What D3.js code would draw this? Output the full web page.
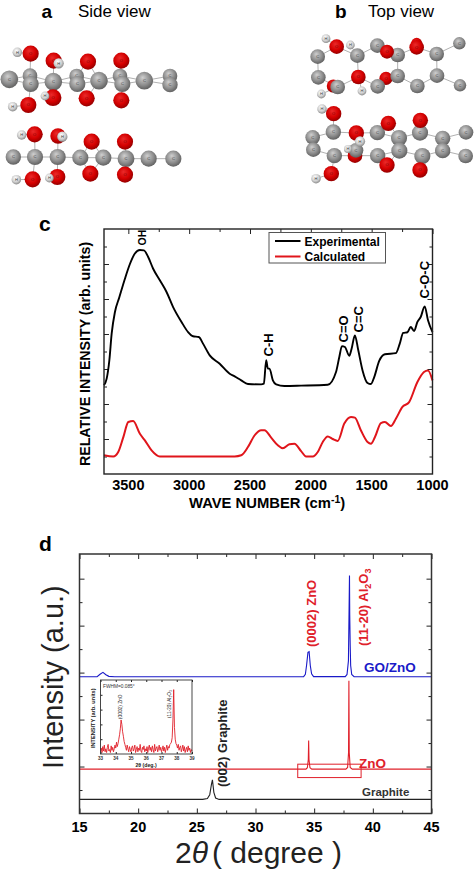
<!DOCTYPE html>
<html><head><meta charset="utf-8">
<script src="https://cdn.jsdelivr.net/npm/d3@7"></script>
<style>html,body{margin:0;padding:0;background:#fff}svg{display:block;font-family:"Liberation Sans",Arial,sans-serif}</style>
</head><body><div id="chart"></div>
<script>
// ---------- panel c ----------
const expWave=[3700,3678,3656,3637,3610,3574,3528,3487,3446,3405,3372,3337,3296,3241,3186,3132,3063,3009,2968,2921,2886,2831,2749,2667,2626,2572,2517,2408,2386,2367,2353,2340,2312,2285,2217,2080,1861,1793,1766,1744,1720,1684,1665,1638,1610,1575,1534,1506,1479,1438,1391,1301,1269,1241,1206,1179,1151,1124,1097,1064,1037,1000];
const expVal=[5.07,5.45,6.5,8.02,9.26,10.1,11.16,12.0,12.6,12.8,12.78,12.4,11.73,11.07,10.4,9.54,8.69,8.11,7.87,7.83,7.45,6.78,6.3,5.73,5.58,5.35,5.14,5.12,5.16,6.5,6.02,6.02,5.35,5.12,5.03,5.05,5.1,5.83,6.69,7.31,7.26,6.76,7.16,7.92,7.07,5.92,5.2,5.14,5.54,6.46,6.84,6.91,7.45,8.06,8.1,8.4,8.17,8.69,8.97,9.58,8.78,8.11];
const calcWave=[3700,3624,3583,3541,3500,3460,3405,3364,3309,3241,2626,2572,2517,2463,2408,2381,2326,2271,2230,2176,2135,2080,2039,1984,1943,1902,1861,1820,1779,1725,1670,1638,1589,1534,1506,1473,1424,1391,1342,1301,1247,1192,1124,1070,1037,1000];
const calcVal=[1.07,1.0,1.26,2.11,2.97,3.03,2.3,1.92,1.35,1.0,1.0,1.07,1.54,2.2,2.5,2.5,2.08,1.64,1.47,1.7,1.73,1.31,1.0,1.0,1.26,1.83,2.15,2.0,1.89,2.88,3.26,3.22,2.5,1.83,1.73,2.11,2.91,2.97,2.74,3.16,3.83,4.11,5.26,5.83,5.92,5.35];
const cTicks=[3500,3000,2500,2000,1500,1000];
const cMinor=[3250,2750,2250,1750,1250];
const cYMajor=[2,4,6,8,10,12];
const cYMinor=[1,3,5,7,9,11,13];
const cLegend=["Experimental","Calculated"];
const cPeaks=["OH","C-H","C=O","C=C","C-O-C"];
// ---------- panel d ----------
const dTicks=[15,20,25,30,35,40,45];
const dMinor=[17.5,22.5,27.5,32.5,37.5,42.5];
const dYMajor=[2,4,6,8,10];
const dYMinor=[1,3,5,7,9];
const blueX=[15,16.5,16.75,17,17.25,17.5,18,25,34.1,34.25,34.35,34.47,34.57,34.67,34.78,34.95,37.65,37.8,37.92,37.97,38.01,38.03,38.07,38.11,38.2,38.4,45];
const blueY=[5.82,5.83,5.93,6.01,5.91,5.84,5.82,5.82,5.83,5.93,6.3,6.86,6.89,6.3,5.95,5.83,5.83,5.92,6.5,8.5,10.13,8.5,7.2,6.3,5.92,5.83,5.82];
const redX=[15,34.3,34.42,34.5,34.53,34.56,34.64,34.8,37.7,37.85,37.93,37.96,37.99,38.07,38.25,45];
const redY=[1.89,1.89,1.95,2.3,3.11,2.3,1.95,1.89,1.89,1.96,2.6,5.65,2.6,1.96,1.89,1.89];
const blackX=[15,25.5,25.9,26.1,26.25,26.33,26.45,26.6,26.9,45];
const blackY=[0.6,0.6,0.64,0.8,1.25,1.43,0.9,0.66,0.6,0.6];
const zoomBox=[33.6,39,1.53,2.1];
// inset
const insetTicks=[33,34,35,36,37,38,39];
const insetX=[33,33.05,33.1,33.15,33.2,33.25,33.3,33.35,33.4,33.45,33.5,33.55,33.6,33.65,33.7,33.75,33.8,33.85,33.9,33.95,34,34.05,34.1,34.15,34.2,34.25,34.3,34.35,34.4,34.45,34.5,34.55,34.6,34.65,34.7,34.75,34.8,34.85,34.9,34.95,35,35.05,35.1,35.15,35.2,35.25,35.3,35.35,35.4,35.45,35.5,35.55,35.6,35.65,35.7,35.75,35.8,35.85,35.9,35.95,36,36.05,36.1,36.15,36.2,36.25,36.3,36.35,36.4,36.45,36.5,36.55,36.6,36.65,36.7,36.75,36.8,36.85,36.9,36.95,37,37.05,37.1,37.15,37.2,37.25,37.3,37.35,37.4,37.45,37.5,37.55,37.6,37.65,37.7,37.75,37.8,37.85,37.9,37.95,38,38.05,38.1,38.15,38.2,38.25,38.3,38.35,38.4,38.45,38.5,38.55,38.6,38.65,38.7,38.75,38.8,38.85,38.9,38.95,39];
const insetY=[.03,.08,.02,.10,.04,.12,.03,.07,.02,.09,.13,.04,.06,.02,.11,.05,.09,.03,.07,.12,.08,.16,.10,.14,.20,.26,.34,.46,.40,.30,.24,.17,.13,.09,.05,.12,.07,.03,.10,.06,.03,.09,.11,.04,.07,.12,.02,.06,.10,.03,.08,.05,.13,.04,.02,.09,.06,.11,.03,.07,.04,.10,.02,.08,.12,.05,.09,.03,.11,.06,.02,.13,.04,.08,.10,.03,.07,.12,.05,.09,.03,.06,.11,.04,.09,.02,.07,.12,.05,.10,.08,.13,.14,.16,.22,.46,.87,.36,.20,.14,.12,.08,.13,.05,.09,.11,.03,.07,.12,.04,.10,.02,.06,.09,.03,.11,.05,.08,.02,.06,.04];
// ---------- molecules (element, x, y, radius read in picture units) ----------
const mol1=[["C",28,118,24],["C",90,107,20],["C",92,132,22],["C",160,125,24],["C",230,108,20],["C",232,132,22],["C",297,122,24],["C",360,108,20],["C",367,132,22],["C",433,122,24],["C",510,108,20],["C",510,134,21],["O",92,41,22],["O",161,62,22],["O",264,65,22],["O",364,62,22],["O",85,195,22],["O",159,173,23],["O",260,175,22],["O",364,181,22],["H",52,37,13],["H",176,70,14],["H",38,200,13],["H",135,168,12]];
const bonds1=[[0,1],[0,2],[1,3],[2,3],[3,4],[3,5],[4,6],[5,6],[6,7],[6,8],[7,9],[8,9],[9,10],[9,11],[1,2],[4,5],[7,8],[10,11],[1,12],[2,16],[3,13],[3,17],[4,14],[6,14],[5,18],[6,18],[7,15],[8,19],[12,20],[16,22],[13,21],[17,23]];
const mol2=[["C",40,351,21],["C",105,351,22],["C",173,351,22],["C",241,353,22],["C",310,353,22],["C",378,356,23],["C",446,356,22],["C",520,356,22],["O",104,283,22],["O",174,288,21],["O",275,305,22],["O",375,305,22],["O",98,418,22],["O",172,411,22],["O",271,401,22],["O",375,404,22],["H",65,285,13],["H",187,290,14],["H",49,419,13],["H",148,414,12]];
const bonds2=[[0,1],[1,2],[2,3],[3,4],[4,5],[5,6],[6,7],[1,8],[2,9],[3,10],[4,10],[5,11],[1,12],[2,13],[3,14],[4,14],[5,15],[8,16],[9,17],[12,18],[13,19]];
const mol3=[["O",100,183,18],["O",258,160,18],["O",350,55,15],["C",53,95,20],["C",55,157,20],["C",113,186,20],["C",172,92,20],["C",232,62,20],["C",233,184,20],["C",293,90,20],["C",293,153,20],["C",352,183,20],["C",410,87,20],["C",411,152,20],["C",478,55,17],["C",480,181,17],["O",110,65,20],["O",261,80,19],["O",350,67,20],["O",175,156,20],["H",78,41,12],["H",151,60,12],["H",64,207,12],["H",186,198,12]];
const bonds3=[[3,4],[3,16],[4,5],[16,6],[5,19],[6,19],[6,7],[7,9],[19,8],[8,10],[9,10],[9,18],[10,11],[18,12],[11,13],[12,13],[12,14],[13,15],[16,20],[19,23],[5,22],[6,21],[17,9],[1,10]];
const mol4=[["O",165,392,20],["O",169,324,21],["C",38,337,20],["C",40,374,20],["C",100,321,21],["C",103,392,21],["C",232,323,21],["C",233,392,21],["C",297,339,22],["C",298,377,22],["C",360,323,22],["C",367,393,22],["C",428,340,21],["C",428,377,21],["C",498,322,20],["C",497,393,20],["C",168,376,20],["O",101,266,21],["O",265,295,21],["O",361,286,21],["O",94,446,21],["O",261,420,21],["O",360,435,21],["H",66,252,13],["H",180,349,14],["H",48,461,13],["H",144,372,11]];
const bonds4=[[2,3],[2,4],[3,5],[4,1],[5,0],[1,6],[0,7],[6,8],[7,9],[8,9],[8,10],[9,11],[10,12],[11,13],[12,13],[12,14],[13,15],[4,17],[5,20],[6,18],[8,18],[7,21],[9,21],[10,19],[11,22],[17,23],[20,25],[16,24],[16,26],[1,16]];

const W=475,H=870;
const svg=d3.select("#chart").append("svg").attr("width",W).attr("height",H);
const defs=svg.append("defs");
[["C",["#cfcfcf","#8e8e8e","#5a5a5a"]],["O",["#ea2a2a","#d40000","#8a0000"]],["H",["#ffffff","#cfcfcf","#808080"]]].forEach(([id,c])=>{
  const g=defs.append("radialGradient").attr("id","g"+id).attr("cx",.45).attr("cy",.42).attr("r",.62).attr("fx",.4).attr("fy",.32);
  [0,.6,1].forEach((o,i)=>g.append("stop").attr("offset",o).attr("stop-color",c[i]));
});
function text(x,y,s,o={}){
  const t=svg.append("text").attr("x",x).attr("y",y).text(s)
    .attr("font-size",o.size||12).attr("font-weight",o.weight||"normal").attr("fill",o.fill||"#000")
    .attr("text-anchor",o.anchor||"start");
  if(o.rot)t.attr("transform",`rotate(${o.rot} ${x} ${y})`);
  return t;
}
// molecules
function molecule(atoms,bonds,sx,sy){
  const g=svg.append("g");
  const r=d3.scaleLinear().domain([0,3]).range([0,1.1]);
  g.selectAll("line").data(bonds).join("line")
    .attr("x1",d=>sx(atoms[d[0]][1])).attr("y1",d=>sy(atoms[d[0]][2]))
    .attr("x2",d=>sx(atoms[d[1]][1])).attr("y2",d=>sy(atoms[d[1]][2]))
    .attr("stroke","#a8a8a8").attr("stroke-width",.9);
  const a=g.selectAll("g").data(atoms).join("g");
  a.append("circle").attr("cx",d=>sx(d[1])).attr("cy",d=>sy(d[2])).attr("r",d=>r(d[3]))
    .attr("fill",d=>`url(#g${d[0]})`);
  a.append("text").attr("x",d=>sx(d[1])).attr("y",d=>sy(d[2])+1.4).attr("text-anchor","middle")
    .attr("font-size",4).attr("fill",d=>d[0]==="O"?"#7a0000":"#3a3a3a").text(d=>d[0]);
}
const sxA=d3.scaleLinear().domain([0,555]).range([0,185]),syA=d3.scaleLinear().domain([0,450]).range([40,190]);
const sxB=d3.scaleLinear().domain([0,525]).range([300,475]),syB=d3.scaleLinear().domain([0,495]).range([25,190]);
molecule(mol1,bonds1,sxA,syA);molecule(mol2,bonds2,sxA,syA);
molecule(mol3,bonds3,sxB,syB);molecule(mol4,bonds4,sxB,syB);
text(41.5,17.5,"a",{size:19,weight:"bold"});
text(78,17,"Side view",{size:17});
text(335,17.5,"b",{size:19,weight:"bold"});
text(368,17,"Top view",{size:17});
text(39,231,"c",{size:21,weight:"bold"});
text(39,551,"d",{size:21,weight:"bold"});

function ticks(g,axis,vals,len,tf){
  const a=g.append("g").attr("transform",tf).call(axis.tickValues(vals).tickSize(len).tickFormat(""));
  a.select(".domain").remove();
  a.selectAll("line").attr("stroke","#222").attr("stroke-width",1);
}
// ---------- panel c ----------
const cx={l:104,r:432.5,t:229,b:474};
const xC=d3.scaleLinear().domain([3700,1000]).range([cx.l,cx.r]);
const yC=d3.scaleLinear().domain([0,14]).range([cx.b,cx.t]);
const gC=svg.append("g");
ticks(gC,d3.axisBottom(xC),cTicks,5,`translate(0,${cx.t})`);
ticks(gC,d3.axisBottom(xC),cMinor,3,`translate(0,${cx.t})`);
ticks(gC,d3.axisRight(yC),cYMajor,5,`translate(${cx.l},0)`);
ticks(gC,d3.axisRight(yC),cYMinor,3,`translate(${cx.l},0)`);
ticks(gC,d3.axisLeft(yC),cYMajor,5,`translate(${cx.r},0)`);
ticks(gC,d3.axisLeft(yC),cYMinor,3,`translate(${cx.r},0)`);
const lineC=d3.line().x(d=>xC(d[0])).y(d=>yC(d[1])).curve(d3.curveMonotoneX);
gC.append("path").datum(d3.zip(calcWave,calcVal)).attr("d",lineC).attr("fill","none").attr("stroke","#e0151b").attr("stroke-width",2);
gC.append("path").datum(d3.zip(expWave,expVal)).attr("d",lineC).attr("fill","none").attr("stroke","#000").attr("stroke-width",1.9);
gC.append("rect").attr("x",cx.l).attr("y",cx.t).attr("width",cx.r-cx.l).attr("height",cx.b-cx.t).attr("fill","none").attr("stroke","#222").attr("stroke-width",1.4);
cTicks.forEach(v=>text(xC(v),490,v,{size:14.5,weight:"bold",anchor:"middle"}));
const wl=text(189,508,"WAVE NUMBER (cm",{size:14.8,weight:"bold"});
wl.append("tspan").attr("dy",-5).attr("font-size",10.5).text("-1");
wl.append("tspan").attr("dy",5).text(")");
text(90,466,"RELATIVE INTENSITY (arb. units)",{size:14.2,weight:"bold",rot:-90});
// legend
gC.append("rect").attr("x",269).attr("y",232.5).attr("width",116.5).attr("height",30.5).attr("fill","#fff").attr("stroke","#555").attr("stroke-width",1);
[["#000",241],["#e0151b",256.5]].forEach(([c,y])=>gC.append("line").attr("x1",275).attr("x2",300.5).attr("y1",y).attr("y2",y).attr("stroke",c).attr("stroke-width",2));
text(304.5,245.5,cLegend[0],{size:12,weight:"bold"});
text(304.5,261,cLegend[1],{size:12,weight:"bold"});
// peak labels
const peakBase=[245.5,356.5,342.5,332.5,298.5],peakX=[146,272.5,347.5,362.5,429],peakSize=[10.5,13,13,13,13];
cPeaks.forEach((p,i)=>text(peakX[i],peakBase[i],p,{size:peakSize[i],weight:"bold",rot:-90}));

// ---------- panel d ----------
const dx={l:79.5,r:431.5,t:554,b:813.5};
const xD=d3.scaleLinear().domain([15,45]).range([dx.l,dx.r]);
const yD=d3.scaleLinear().domain([0,11.05]).range([dx.b,dx.t]);
const gD=svg.append("g");
ticks(gD,d3.axisBottom(xD),dTicks,5,`translate(0,${dx.t})`);
ticks(gD,d3.axisBottom(xD),dMinor,3,`translate(0,${dx.t})`);
ticks(gD,d3.axisTop(xD),dTicks,5,`translate(0,${dx.b})`);
ticks(gD,d3.axisTop(xD),dMinor,3,`translate(0,${dx.b})`);
ticks(gD,d3.axisRight(yD),dYMajor,5,`translate(${dx.l},0)`);
ticks(gD,d3.axisRight(yD),dYMinor,3,`translate(${dx.l},0)`);
ticks(gD,d3.axisLeft(yD),dYMajor,5,`translate(${dx.r},0)`);
ticks(gD,d3.axisLeft(yD),dYMinor,3,`translate(${dx.r},0)`);
const lineD=d3.line().x(d=>xD(d[0])).y(d=>yD(d[1]));
[[blackX,blackY,"#222"],[redX,redY,"#e0202a"],[blueX,blueY,"#1a1ac8"]].forEach(([a,b,c])=>
  gD.append("path").datum(d3.zip(a,b)).attr("d",lineD).attr("fill","none").attr("stroke",c).attr("stroke-width",1.1));
gD.append("rect").attr("x",xD(zoomBox[0])).attr("y",yD(zoomBox[3])).attr("width",xD(zoomBox[1])-xD(zoomBox[0])).attr("height",yD(zoomBox[2])-yD(zoomBox[3])).attr("fill","none").attr("stroke","#e0202a").attr("stroke-width",1);
gD.append("rect").attr("x",dx.l).attr("y",dx.t).attr("width",dx.r-dx.l).attr("height",dx.b-dx.t).attr("fill","none").attr("stroke","#333").attr("stroke-width",1.5);
dTicks.forEach(v=>text(xD(v),832,v,{size:14.5,weight:"bold",anchor:"middle"}));
const xl=text(175,863,"2",{size:30,fill:"#222"});
xl.append("tspan").attr("font-style","italic").text("θ");
xl.append("tspan").attr("dx",4).text("( degree )");
text(63,769,"Intensity (a.u.)",{size:29,rot:-90,fill:"#222"});
text(227,787,"(002) Graphite",{size:13,rot:-90,fill:"#222",weight:"bold"});
text(315.5,647,"(0002) ZnO",{size:13,rot:-90,fill:"#e0202a",weight:"bold"});
const al=text(367.5,646,"(11-20) Al",{size:13,rot:-90,fill:"#e0202a",weight:"bold"});
al.append("tspan").attr("dy",3).attr("font-size",9).text("2");
al.append("tspan").attr("dy",-3).text("O");
al.append("tspan").attr("dy",3).attr("font-size",9).text("3");
text(364,672,"GO/ZnO",{size:13.5,weight:"bold",fill:"#1a1ac8"});
text(359,768,"ZnO",{size:13.5,weight:"bold",fill:"#e0202a"});
text(362,796,"Graphite",{size:11.5,weight:"bold",fill:"#333"});
// inset
const ix={l:100.5,r:192,t:680,b:754};
const xI=d3.scaleLinear().domain([33,39]).range([ix.l,ix.r]);
const yI=d3.scaleLinear().domain([0,1]).range([ix.b,ix.t]);
const gI=svg.append("g");
gI.append("path").datum(d3.zip(insetX,insetY)).attr("d",d3.line().x(d=>xI(d[0])).y(d=>yI(d[1]))).attr("fill","none").attr("stroke","#e0202a").attr("stroke-width",.9);
ticks(gI,d3.axisBottom(xI),insetTicks,2,`translate(0,${ix.t})`);
ticks(gI,d3.axisTop(xI),insetTicks,2,`translate(0,${ix.b})`);
ticks(gI,d3.axisRight(yI),[.2,.4,.6,.8],2,`translate(${ix.l},0)`);
gI.append("rect").attr("x",ix.l).attr("y",ix.t).attr("width",ix.r-ix.l).attr("height",ix.b-ix.t).attr("fill","none").attr("stroke","#333").attr("stroke-width",.9);
insetTicks.forEach(v=>text(xI(v),759.5,v,{size:4.6,weight:"bold",anchor:"middle",fill:"#333"}));
text(146,767,"2θ (deg.)",{size:5.2,weight:"bold",anchor:"middle",fill:"#222"});
text(94.5,748,"INTENSITY (arb. units)",{size:5.6,weight:"bold",rot:-90,fill:"#222"});
text(103,687.5,"FWHM=0.085°",{size:4.8,fill:"#333"});
text(122,719,"(0002) ZnO",{size:4.8,rot:-90,fill:"#222"});
text(171,718,"(11-20) Al₂O₃",{size:4.8,rot:-90,fill:"#222"});
</script></body></html>
